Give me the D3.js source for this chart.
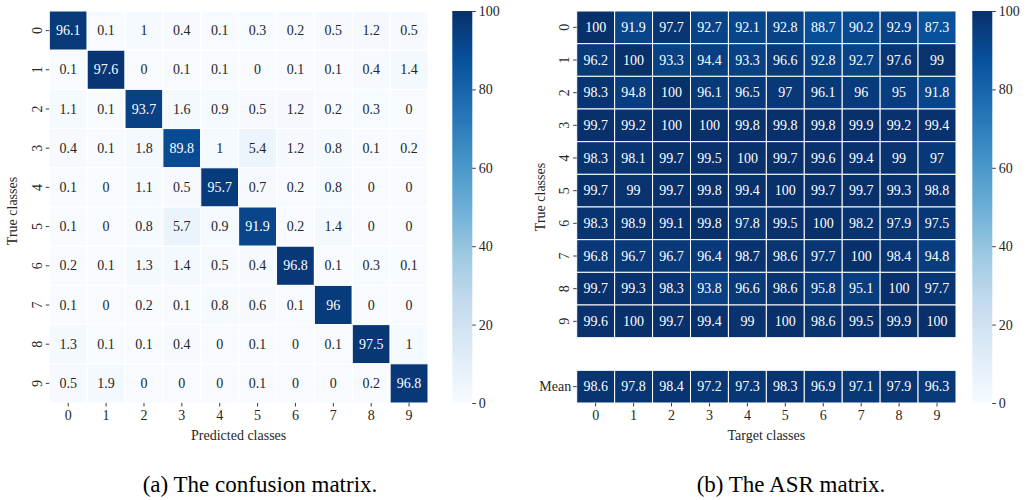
<!DOCTYPE html>
<html>
<head>
<meta charset="utf-8">
<script src="https://cdn.jsdelivr.net/npm/d3@7"></script>
<style>
  html, body { margin: 0; padding: 0; background: #fff; }
  svg { display: block; }
  text { font-family: 'Liberation Serif', 'Times New Roman', serif; }
</style>
</head>
<body>
<svg id="fig" width="1032" height="500"></svg>
<script>
// ---- data ----------------------------------------------------------------
const classes = ["0", "1", "2", "3", "4", "5", "6", "7", "8", "9"];
const colorTicks = [0, 20, 40, 60, 80, 100];

// Confusion matrix (%): rows = true class, columns = predicted class
const confusion = [
  [96.1, 0.1, 1, 0.4, 0.1, 0.3, 0.2, 0.5, 1.2, 0.5],
  [0.1, 97.6, 0, 0.1, 0.1, 0, 0.1, 0.1, 0.4, 1.4],
  [1.1, 0.1, 93.7, 1.6, 0.9, 0.5, 1.2, 0.2, 0.3, 0],
  [0.4, 0.1, 1.8, 89.8, 1, 5.4, 1.2, 0.8, 0.1, 0.2],
  [0.1, 0, 1.1, 0.5, 95.7, 0.7, 0.2, 0.8, 0, 0],
  [0.1, 0, 0.8, 5.7, 0.9, 91.9, 0.2, 1.4, 0, 0],
  [0.2, 0.1, 1.3, 1.4, 0.5, 0.4, 96.8, 0.1, 0.3, 0.1],
  [0.1, 0, 0.2, 0.1, 0.8, 0.6, 0.1, 96, 0, 0],
  [1.3, 0.1, 0.1, 0.4, 0, 0.1, 0, 0.1, 97.5, 1],
  [0.5, 1.9, 0, 0, 0, 0.1, 0, 0, 0.2, 96.8]
];

// Attack success rate (%): rows = true class, columns = target class
const asr = [
  [100, 91.9, 97.7, 92.7, 92.1, 92.8, 88.7, 90.2, 92.9, 87.3],
  [96.2, 100, 93.3, 94.4, 93.3, 96.6, 92.8, 92.7, 97.6, 99],
  [98.3, 94.8, 100, 96.1, 96.5, 97, 96.1, 96, 95, 91.8],
  [99.7, 99.2, 100, 100, 99.8, 99.8, 99.8, 99.9, 99.2, 99.4],
  [98.3, 98.1, 99.7, 99.5, 100, 99.7, 99.6, 99.4, 99, 97],
  [99.7, 99, 99.7, 99.8, 99.4, 100, 99.7, 99.7, 99.3, 98.8],
  [98.3, 98.9, 99.1, 99.8, 97.8, 99.5, 100, 98.2, 97.9, 97.5],
  [96.8, 96.7, 96.7, 96.4, 98.7, 98.6, 97.7, 100, 98.4, 94.8],
  [99.7, 99.3, 98.3, 93.8, 96.6, 98.6, 95.8, 95.1, 100, 97.7],
  [99.6, 100, 99.7, 99.4, 99, 100, 98.6, 99.5, 99.9, 100]
];
const asrMean = [98.6, 97.8, 98.4, 97.2, 97.3, 98.3, 96.9, 97.1, 97.9, 96.3];

// ---- colour map (ColorBrewer Blues, piecewise linear) --------------------
const bluesStops = ["#f7fbff", "#deebf7", "#c6dbef", "#9ecae1", "#6baed6",
                    "#4292c6", "#2171b5", "#08519c", "#08306b"];
const color = d3.scaleLinear()
  .domain(bluesStops.map((_, i) => i * 100 / (bluesStops.length - 1)))
  .range(bluesStops)
  .interpolate(d3.interpolateRgb)
  .clamp(true);

function luminance(c) {
  const rgb = d3.rgb(c);
  const f = v => { v /= 255; return v <= 0.03928 ? v / 12.92 : Math.pow((v + 0.055) / 1.055, 2.4); };
  return 0.2126 * f(rgb.r) + 0.7152 * f(rgb.g) + 0.0722 * f(rgb.b);
}
const textColor = v => luminance(color(v)) > 0.408 ? "#262626" : "#ffffff";

const svg = d3.select("#fig");
const FONT = 14;
const INK = "#262626";

// shared colourbar gradient
const defs = svg.append("defs");
const grad = defs.append("linearGradient").attr("id", "bluesGrad")
  .attr("x1", 0).attr("y1", 1).attr("x2", 0).attr("y2", 0);
d3.range(0, 101, 2).forEach(t => {
  grad.append("stop").attr("offset", t + "%").attr("stop-color", color(t));
});

function styleAxis(g) {
  g.select(".domain").remove();
  g.selectAll(".tick line").attr("stroke", INK).attr("stroke-width", 0.9);
  g.selectAll(".tick text").attr("fill", INK).style("font-size", FONT + "px")
    .style("font-family", "'Liberation Serif', 'Times New Roman', serif");
}

function drawColorbar(x, y0, y1) {
  const g = svg.append("g");
  g.append("rect").attr("x", x).attr("y", y0).attr("width", 20).attr("height", y1 - y0)
    .attr("fill", "url(#bluesGrad)");
  const s = d3.scaleLinear().domain([0, 100]).range([y1, y0]);
  g.append("g").attr("transform", `translate(${x + 20},0)`)
    .call(d3.axisRight(s).tickValues(colorTicks).tickSize(3.5).tickPadding(3))
    .call(styleAxis);
}

function drawCells(g, rows, xs, ys, rowKeys) {
  rows.forEach((row, ri) => {
    row.forEach((v, ci) => {
      const x = xs(classes[ci]), y = ys(rowKeys[ri]);
      g.append("rect").attr("x", x).attr("y", y)
        .attr("width", xs.bandwidth()).attr("height", ys.bandwidth())
        .attr("fill", color(v)).attr("stroke", "#ffffff").attr("stroke-width", 1);
      g.append("text").attr("x", x + xs.bandwidth() / 2).attr("y", y + ys.bandwidth() / 2)
        .attr("text-anchor", "middle").attr("dominant-baseline", "central")
        .attr("fill", textColor(v)).style("font-size", FONT + "px")
        .text(d3.format("~g")(v));
    });
  });
}

function yAxisRotated(g, ys, keys, x0) {
  g.append("g").attr("transform", `translate(${x0},0)`)
    .call(d3.axisLeft(ys).tickValues(keys).tickSize(3.5).tickPadding(3))
    .call(styleAxis)
    .call(a => a.selectAll(".tick text")
      .attr("x", -12).attr("dy", null)
      .attr("text-anchor", "middle").attr("dominant-baseline", "central")
      .attr("transform", "rotate(-90 -12 0)")
      .attr("x", -12).attr("y", 0));
}

// ---- (a) confusion matrix -------------------------------------------------
{
  const L = { x0: 49.3, x1: 428, y0: 11, y1: 403 };
  const xs = d3.scaleBand().domain(classes).range([L.x0, L.x1]);
  const ys = d3.scaleBand().domain(classes).range([L.y0, L.y1]);
  const g = svg.append("g");
  drawCells(g, confusion, xs, ys, classes);

  g.append("g").attr("transform", `translate(0,${L.y1})`)
    .call(d3.axisBottom(xs).tickSize(3.5).tickPadding(4))
    .call(styleAxis);
  yAxisRotated(g, ys, classes, L.x0);

  g.append("text").attr("x", (L.x0 + L.x1) / 2).attr("y", 440)
    .attr("text-anchor", "middle").attr("fill", INK).style("font-size", FONT + "px")
    .text("Predicted classes");
  g.append("text").attr("transform", "translate(17,211) rotate(-90)")
    .attr("text-anchor", "middle").attr("fill", INK).style("font-size", FONT + "px")
    .text("True classes");

  drawColorbar(452.3, L.y0, L.y1);

  svg.append("text").attr("x", 260).attr("y", 492).attr("text-anchor", "middle")
    .attr("fill", "#000").style("font-size", "23px").text("(a) The confusion matrix.");
}

// ---- (b) ASR matrix -------------------------------------------------------
{
  const R = { x0: 576.7, x1: 956, y0: 11, y1: 403 };
  const rowKeys = classes.concat(["gap", "Mean"]);
  const xs = d3.scaleBand().domain(classes).range([R.x0, R.x1]);
  const ys = d3.scaleBand().domain(rowKeys).range([R.y0, R.y1]);
  const g = svg.append("g");
  drawCells(g, asr, xs, ys, classes);
  drawCells(g, [asrMean], xs, ys, ["Mean"]);

  g.append("g").attr("transform", `translate(0,${R.y1})`)
    .call(d3.axisBottom(xs).tickSize(3.5).tickPadding(4))
    .call(styleAxis);
  yAxisRotated(g, ys, classes, R.x0);
  // horizontal label for the summary row
  g.append("g").attr("transform", `translate(${R.x0},0)`)
    .call(d3.axisLeft(ys).tickValues(["Mean"]).tickSize(3.5).tickPadding(2))
    .call(styleAxis);

  g.append("text").attr("x", (R.x0 + R.x1) / 2).attr("y", 440)
    .attr("text-anchor", "middle").attr("fill", INK).style("font-size", FONT + "px")
    .text("Target classes");
  g.append("text").attr("transform", "translate(545,197) rotate(-90)")
    .attr("text-anchor", "middle").attr("fill", INK).style("font-size", FONT + "px")
    .text("True classes");

  drawColorbar(972.3, R.y0, R.y1);

  svg.append("text").attr("x", 791).attr("y", 492).attr("text-anchor", "middle")
    .attr("fill", "#000").style("font-size", "23px").text("(b) The ASR matrix.");
}
</script>
</body>
</html>
